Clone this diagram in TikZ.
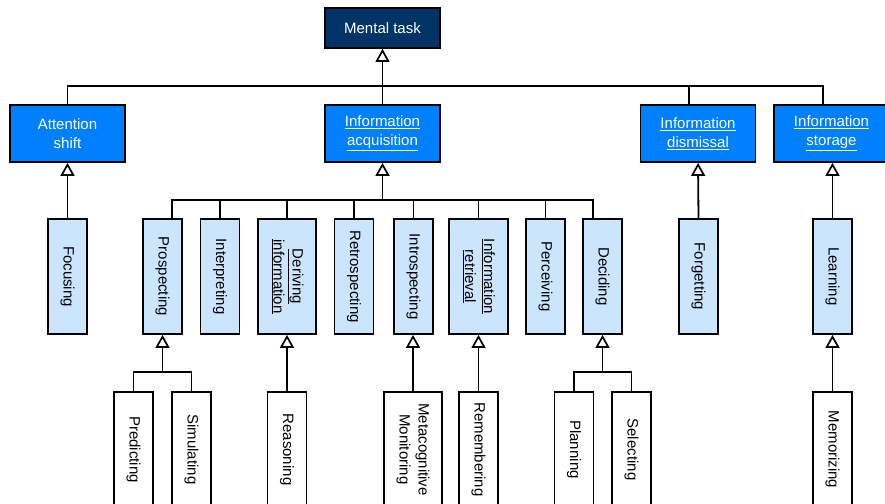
\documentclass[tikz,border=0pt]{standalone}
\usepackage{fontspec}
\setmainfont{Liberation Sans}
\usepackage{graphicx}
\usetikzlibrary{arrows.meta}
\definecolor{navyblue}{RGB}{0,51,102}
\definecolor{brightblue}{RGB}{0,127,255}
\definecolor{paleblue}{RGB}{204,229,255}
\newcommand{\vlabel}[1]{\rotatebox{-90}{\begin{tabular}{@{}c@{}}#1\end{tabular}}}

\begin{document}
\begin{tikzpicture}[x=1pt,y=-1pt,
    box/.style={draw=black,line width=1.8pt,inner sep=0pt,font=\fontsize{15}{19}\selectfont},
    task/.style={box,fill=navyblue,text=white,minimum width=115pt,minimum height=40pt},
    areabox/.style={box,fill=brightblue,text=white,align=center,minimum width=115pt,minimum height=57pt},
    subtask/.style={box,fill=paleblue,minimum width=39pt,minimum height=115pt},
    leaf/.style={box,fill=white,minimum width=39pt,minimum height=115pt},
    link/.style={draw=black,line width=1.6pt},
    isa/.style={link,line width=1.8pt,-{Triangle[open,length=13pt,width=14pt,line width=1.7pt]}}]
    \useasboundingbox (0,0) rectangle (885,503);

    % Mental task
    \node[task] (task) at (382.5,28) {Mental task};

    % Task areas
    \node[areabox] (attn) at (67.5,133.5) {Attention\\shift};
    \node[areabox] (acq) at (382.5,133.5) {\underline{Information}\\\underline{acquisition}};
    \node[areabox] (dismiss) at (698,133.5) {\underline{Information}\\\underline{dismissal}};
    \node[areabox] (store) at (831.5,133.5) {\underline{Information}\\\underline{storage}};

    % Subtasks
    \node[subtask] (focus) at (67.5,276.5) {\vlabel{Focusing}};
    \node[subtask] (prosp) at (162.5,276.5) {\vlabel{Prospecting}};
    \node[subtask] (interp) at (220,276.5) {\vlabel{Interpreting}};
    \node[subtask,minimum width=58pt] (deriv) at (287,276.5) {\vlabel{\underline{Deriving}\\\underline{information}}};
    \node[subtask] (retro) at (354,276.5) {\vlabel{Retrospecting}};
    \node[subtask] (intro) at (413.5,276.5) {\vlabel{Introspecting}};
    \node[subtask,minimum width=59pt] (retrieve) at (478.5,276.5) {\vlabel{\underline{Information}\\\underline{retrieval}}};
    \node[subtask] (perceive) at (545.5,276.5) {\vlabel{Perceiving}};
    \node[subtask] (decide) at (602.5,276.5) {\vlabel{Deciding}};
    \node[subtask] (forget) at (698.5,276.5) {\vlabel{Forgetting}};
    \node[subtask] (learn) at (832.5,276.5) {\vlabel{Learning}};

    % Leaves
    \node[leaf] (predict) at (133.5,449.5) {\vlabel{Predicting}};
    \node[leaf] (simul) at (191.5,449.5) {\vlabel{Simulating}};
    \node[leaf] (reason) at (287,449.5) {\vlabel{Reasoning}};
    \node[leaf,minimum width=58pt] (monitor) at (413,449.5) {\vlabel{Metacognitive\\Monitoring}};
    \node[leaf] (remember) at (478.5,449.5) {\vlabel{Remembering}};
    \node[leaf] (plan) at (574,449.5) {\vlabel{Planning}};
    \node[leaf] (select) at (631.5,449.5) {\vlabel{Selecting}};
    \node[leaf] (memorize) at (832.5,449.5) {\vlabel{Memorizing}};

    % Bus junctions
    \coordinate (topbus) at (382.5,86);
    \coordinate (acqbus) at (382.5,200);
    \coordinate (prosbus) at (162.5,372);
    \coordinate (decbus) at (602.5,372);

    % Areas to mental task
    \draw[link] (attn.north) |- (topbus);
    \draw[link] (acq.north) -- (topbus);
    \draw[link] ([xshift=-9pt]dismiss.north) |- (topbus);
    \draw[link] ([xshift=-8.5pt]store.north) |- (topbus);
    \draw[isa] (topbus) -- (task.south);

    % Subtasks to areas
    \draw[isa] (focus.north) -- (attn.south);
    \draw[link] ([xshift=9.5pt]prosp.north) |- (acqbus);
    \draw[link] (interp.north) |- (acqbus);
    \draw[link] (deriv.north) |- (acqbus);
    \draw[link] (retro.north) |- (acqbus);
    \draw[link] (intro.north) |- (acqbus);
    \draw[link] (retrieve.north) |- (acqbus);
    \draw[link] (perceive.north) |- (acqbus);
    \draw[link] ([xshift=-9.5pt]decide.north) |- (acqbus);
    \draw[isa] (acqbus) -- (acq.south);
    \draw[isa] (forget.north) -- (dismiss.south);
    \draw[isa] (learn.north) -- (learn.north |- store.south);

    % Leaves to subtasks
    \draw[link] (predict.north) |- (prosbus);
    \draw[link] (simul.north) |- (prosbus);
    \draw[isa] (prosbus) -- (prosp.south);
    \draw[isa] (reason.north) -- (deriv.south);
    \draw[isa] (monitor.north) -- (monitor.north |- intro.south);
    \draw[isa] (remember.north) -- (retrieve.south);
    \draw[link] (plan.north) |- (decbus);
    \draw[link] (select.north) |- (decbus);
    \draw[isa] (decbus) -- (decide.south);
    \draw[isa] (memorize.north) -- (learn.south);
\end{tikzpicture}
\end{document}
